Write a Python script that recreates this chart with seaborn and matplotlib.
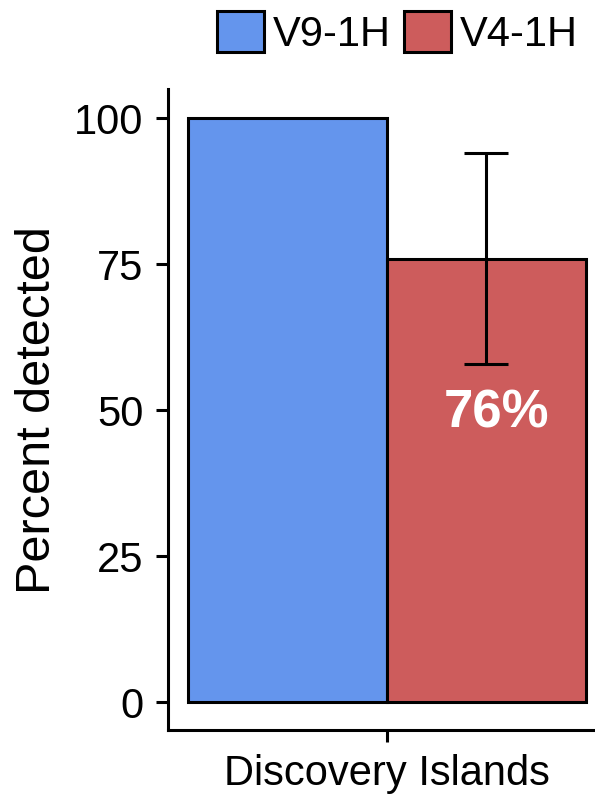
import matplotlib
matplotlib.use("Agg")
import matplotlib.pyplot as plt
import seaborn as sns
import pandas as pd

sites = ["Discovery Islands"]
assays = ["V9-1H", "V4-1H"]
percent_detected = [100, 76]
err_lower = [None, 58]
err_upper = [None, 94]
palette = {"V9-1H": "#6495ED", "V4-1H": "#CD5C5C"}

sns.set_theme(style="ticks")
plt.rcParams["font.family"] = ["Liberation Sans", "DejaVu Sans"]
plt.rcParams["text.color"] = "black"
plt.rcParams["axes.labelcolor"] = "black"

df = pd.DataFrame({
    "site": sites * len(assays),
    "assay": assays,
    "pct": percent_detected,
})

fig = plt.figure(figsize=(5.95, 7.96), dpi=100)
ax = fig.add_axes([0.2818, 0.0829, 0.7371, 0.8049])

sns.barplot(data=df, x="site", y="pct", hue="assay", hue_order=assays,
            palette=palette, width=0.8, errorbar=None, ax=ax,
            edgecolor="black", linewidth=2.2, saturation=1)

# error bars and value label on the bars that carry them
for patch, assay, val, lo, hi in zip(ax.patches, assays, percent_detected,
                                     err_lower, err_upper):
    if lo is None:
        continue
    cx = patch.get_x() + patch.get_width() / 2
    ax.errorbar([cx], [val], yerr=[[val - lo], [hi - val]], fmt="none",
                ecolor="black", elinewidth=2.2, capsize=15.8, capthick=2.2,
                zorder=5)
    ax.text(cx + 0.02, val - 29, f"{val:.0f}%", color="white",
            fontsize=38, fontweight="bold", ha="center", va="baseline",
            zorder=6)

ax.set_xlim(-0.441, 0.441)
ax.set_ylim(-4.8, 105)
ax.set_yticks([0, 25, 50, 75, 100])
ax.set_xlabel("")
ax.set_ylabel("Percent detected", fontsize=35, labelpad=10, color="black")
ax.tick_params(axis="both", labelsize=30, length=8.6, width=2.2,
               color="black", labelcolor="black", pad=9)
for side in ["left", "bottom"]:
    ax.spines[side].set_linewidth(2.2)
    ax.spines[side].set_color("black")
sns.despine(ax=ax)

handles, labels = ax.get_legend_handles_labels()
ax.get_legend().remove()
for h in handles:
    h.set_edgecolor("black")
    h.set_linewidth(2.2)
leg = fig.legend(handles, labels, loc="center right",
                 bbox_to_anchor=(578 / 595, 1 - 33 / 796), ncol=2,
                 frameon=False, fontsize=30, handlelength=1.14,
                 handleheight=1.12, handletextpad=0.21, columnspacing=0.31,
                 borderpad=0, borderaxespad=0)
for t in leg.get_texts():
    t.set_color("black")

fig.savefig("out.png", dpi=100)
